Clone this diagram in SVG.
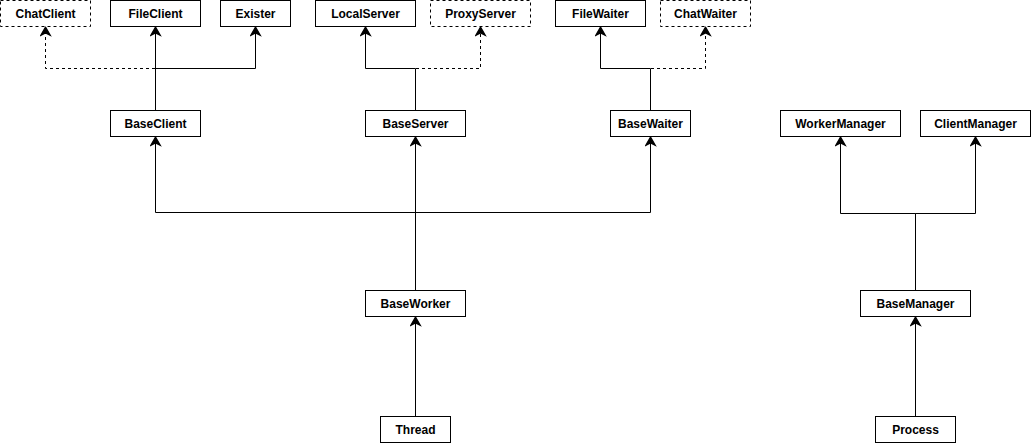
<svg xmlns="http://www.w3.org/2000/svg" width="1031" height="444" viewBox="0 0 1031 444">
<style>
.n rect{fill:#fff;stroke:#000;stroke-width:1}
.n.d rect{stroke-dasharray:3 3}
.n text{font-family:"Liberation Sans",Arial,sans-serif;font-size:12px;font-weight:bold;fill:#000;text-anchor:middle}
.e path{fill:none;stroke:#000;stroke-width:1;marker-end:url(#arr)}
.e path.d{stroke-dasharray:3 3}
</style>
<defs>
<marker id="arr" markerUnits="userSpaceOnUse" markerWidth="12" markerHeight="12" viewBox="-8 -5 10 10" refX="0" refY="0" orient="auto">
<path d="M0,0 L-7,-4 L-5,0 L-7,4 Z" fill="#000" stroke="#000" stroke-width="1"/>
</marker>
</defs>
<rect width="1031" height="444" fill="#fff"/>
<g id="connectors" class="e">
<path class="d" d="M155.5,110 V68.5 H45.5 V27"/>
<path d="M155.5,110 V27"/>
<path d="M155.5,110 V68.5 H255.5 V27"/>
<path d="M415.5,110 V68.5 H365.5 V27"/>
<path class="d" d="M415.5,110 V68.5 H480.5 V27"/>
<path d="M650.5,110 V68.5 H600.5 V27"/>
<path class="d" d="M650.5,110 V68.5 H705.5 V27"/>
<path d="M415.5,290 V212.5 H155.5 V137"/>
<path d="M415.5,290 V137"/>
<path d="M415.5,290 V212.5 H650.5 V137"/>
<path d="M415.5,417 V317"/>
<path d="M915.5,417 V317"/>
<path d="M915.5,290 V213.5 H840.5 V137"/>
<path d="M915.5,290 V213.5 H975.5 V137"/>
</g>
<g id="ChatClient" class="n d"><rect x="0.5" y="0.5" width="90" height="26"/><text x="45.5" y="18">ChatClient</text></g>
<g id="FileClient" class="n"><rect x="110.5" y="0.5" width="90" height="26"/><text x="155.5" y="18">FileClient</text></g>
<g id="Exister" class="n"><rect x="220.5" y="0.5" width="70" height="26"/><text x="255.5" y="18">Exister</text></g>
<g id="LocalServer" class="n"><rect x="315.5" y="0.5" width="100" height="26"/><text x="365.5" y="18">LocalServer</text></g>
<g id="ProxyServer" class="n d"><rect x="430.5" y="0.5" width="100" height="26"/><text x="480.5" y="18">ProxyServer</text></g>
<g id="FileWaiter" class="n"><rect x="555.5" y="0.5" width="90" height="26"/><text x="600.5" y="18">FileWaiter</text></g>
<g id="ChatWaiter" class="n d"><rect x="660.5" y="0.5" width="90" height="26"/><text x="705.5" y="18">ChatWaiter</text></g>
<g id="BaseClient" class="n"><rect x="110.5" y="110.5" width="90" height="26"/><text x="155.5" y="128">BaseClient</text></g>
<g id="BaseServer" class="n"><rect x="365.5" y="110.5" width="100" height="26"/><text x="415.5" y="128">BaseServer</text></g>
<g id="BaseWaiter" class="n"><rect x="610.5" y="110.5" width="80" height="26"/><text x="650.5" y="128">BaseWaiter</text></g>
<g id="WorkerManager" class="n"><rect x="780.5" y="110.5" width="120" height="26"/><text x="840.5" y="128">WorkerManager</text></g>
<g id="ClientManager" class="n"><rect x="920.5" y="110.5" width="110" height="26"/><text x="975.5" y="128">ClientManager</text></g>
<g id="BaseWorker" class="n"><rect x="365.5" y="290.5" width="100" height="26"/><text x="415.5" y="308">BaseWorker</text></g>
<g id="BaseManager" class="n"><rect x="860.5" y="290.5" width="110" height="26"/><text x="915.5" y="308">BaseManager</text></g>
<g id="Thread" class="n"><rect x="380.5" y="416.5" width="70" height="26"/><text x="415.5" y="434">Thread</text></g>
<g id="Process" class="n"><rect x="875.5" y="416.5" width="80" height="26"/><text x="915.5" y="434">Process</text></g>
</svg>
